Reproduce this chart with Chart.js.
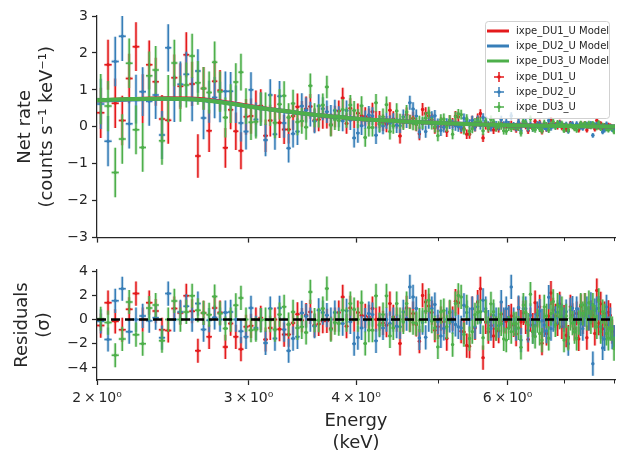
<!DOCTYPE html>
<html>
<head>
<meta charset="utf-8">
<script src="https://cdn.jsdelivr.net/npm/chart.js@4.4.0/dist/chart.umd.min.js"></script>
<style>
  body { margin: 0; background: #fff; }
  #wrap { position: relative; width: 623px; height: 464px; background: #fff; }
  canvas { position: absolute; left: 0; }
  #rate-chart { top: 0; }
  #resid-chart { top: 250px; }
</style>
</head>
<body>
<div id="wrap">
  <canvas id="rate-chart" width="623" height="250"></canvas>
  <canvas id="resid-chart" width="623" height="214"></canvas>
</div>
<script>
// bin centres (keV), 0.04 keV wide bins
const energy = [
  2.02,2.06,2.10,2.14,2.18,2.22,2.26,2.30,2.34,2.38,2.42,2.46,2.50,2.54,2.58,
  2.62,2.66,2.70,2.74,2.78,2.82,2.86,2.90,2.94,2.98,3.02,3.06,3.10,3.14,3.18,
  3.22,3.26,3.30,3.34,3.38,3.42,3.46,3.50,3.54,3.58,3.62,3.66,3.70,3.74,3.78,
  3.82,3.86,3.90,3.94,3.98,4.02,4.06,4.10,4.14,4.18,4.22,4.26,4.30,4.34,4.38,
  4.42,4.46,4.50,4.54,4.58,4.62,4.66,4.70,4.74,4.78,4.82,4.86,4.90,4.94,4.98,
  5.02,5.06,5.10,5.14,5.18,5.22,5.26,5.30,5.34,5.38,5.42,5.46,5.50,5.54,5.58,
  5.62,5.66,5.70,5.74,5.78,5.82,5.86,5.90,5.94,5.98,6.02,6.06,6.10,6.14,6.18,
  6.22,6.26,6.30,6.34,6.38,6.42,6.46,6.50,6.54,6.58,6.62,6.66,6.70,6.74,6.78,
  6.82,6.86,6.90,6.94,6.98,7.02,7.06,7.10,7.14,7.18,7.22,7.26,7.30,7.34,7.38,
  7.42,7.46,7.50,7.54,7.58,7.62,7.66,7.70,7.74,7.78,7.82,7.86,7.90,7.94,7.98
];
const binHalfWidth = 0.02;

const seriesNames = ['ixpe_DU1_U', 'ixpe_DU2_U', 'ixpe_DU3_U'];

// net rate, counts s^-1 keV^-1
const rateDU1 = [
  0.38,1.68,0.64,0.17,1.31,2.17,0.76,1.68,1.22,0.21,0.18,1.33,1.10,1.95,1.16,
  -0.79,1.04,-0.11,1.23,0.99,-0.57,0.46,-0.12,-0.65,0.27,0.29,0.52,0.57,-0.24,0.17,
  0.46,0.11,-0.07,-0.07,0.29,0.54,0.35,0.48,0.55,0.18,0.20,0.26,0.26,0.06,0.28,
  0.43,0.78,0.09,0.50,0.23,0.37,0.30,0.28,0.25,0.41,0.19,0.20,0.11,0.07,0.45,
  0.21,0.16,-0.25,0.15,0.33,0.14,0.23,0.06,-0.19,0.47,0.36,0.30,0.20,-0.03,0.01,
  0.11,0.07,-0.13,0.17,0.10,0.29,0.27,-0.05,-0.05,-0.20,-0.20,0.18,-0.01,0.24,0.36,
  -0.30,0.04,-0.05,0.00,-0.09,-0.02,-0.05,0.10,0.03,0.03,0.06,0.07,0.00,-0.07,0.12,
  0.02,0.09,0.02,-0.11,0.03,0.00,0.15,0.06,0.11,-0.13,0.02,-0.06,0.05,0.19,0.08,
  0.05,0.00,0.12,-0.02,0.03,-0.07,-0.08,0.09,0.04,-0.03,0.05,-0.09,0.09,0.00,0.09,
  -0.09,0.02,0.05,0.04,-0.06,0.17,-0.01,0.09,-0.04,0.04,-0.02,0.05,0.03,-0.05,-0.08
];
const rateDU2 = [
  0.62,-0.39,1.77,2.45,0.08,0.75,0.95,0.69,0.86,-0.22,2.14,0.76,1.15,1.42,0.75,
  1.51,0.24,0.68,0.79,0.67,0.96,0.96,0.61,0.10,-0.13,1.00,0.20,0.48,-0.36,0.86,
  -0.20,0.83,0.10,-0.58,-0.19,-0.13,0.56,0.45,0.34,0.15,0.56,0.49,0.41,0.29,0.44,
  0.27,0.16,0.44,0.18,-0.30,-0.17,0.03,0.19,0.32,0.29,-0.23,0.07,0.02,0.17,0.09,
  0.16,0.04,0.03,0.27,0.16,0.65,0.48,0.29,-0.14,0.08,-0.13,0.11,0.26,0.30,0.07,
  -0.10,-0.01,0.09,0.08,0.06,0.03,0.00,-0.01,0.23,0.15,0.08,0.18,0.00,0.19,0.04,
  0.25,0.16,0.04,-0.02,0.09,0.05,0.00,0.20,0.05,0.13,0.06,0.30,0.04,-0.03,0.13,
  -0.11,0.12,0.12,-0.04,0.06,-0.05,-0.01,0.07,0.08,0.02,-0.01,-0.05,0.17,-0.03,0.03,
  0.03,0.07,0.10,0.04,0.02,0.07,-0.12,0.07,0.08,0.00,0.08,0.02,-0.01,-0.04,0.04,
  0.07,0.02,0.09,-0.23,0.06,0.07,0.07,-0.03,-0.14,-0.09,0.08,-0.04,0.01,-0.08,-0.08
];
const rateDU3 = [
  0.75,0.56,-1.24,-0.33,1.72,-0.08,-0.56,1.38,1.54,-0.38,0.76,1.73,0.76,1.13,1.92,
  1.19,1.04,0.93,1.75,0.95,0.25,0.63,1.21,1.48,0.56,0.12,0.14,0.48,0.49,0.45,
  0.11,0.61,0.84,0.25,0.63,0.13,0.16,-0.01,1.11,0.31,0.30,0.59,1.08,0.04,0.20,
  0.17,0.47,0.25,0.59,0.44,0.22,0.57,-0.29,-0.02,-0.02,0.65,0.09,0.27,0.60,-0.13,
  0.02,0.43,0.15,0.11,0.40,0.13,0.09,0.07,0.12,0.11,0.23,0.38,0.09,0.00,-0.24,
  0.19,0.21,0.01,0.18,-0.20,0.27,0.35,0.33,-0.08,0.21,-0.12,-0.05,0.12,0.14,0.14,
  -0.11,0.13,-0.02,0.20,0.13,-0.02,0.05,0.02,-0.11,-0.12,-0.02,-0.05,0.01,0.01,-0.02,
  -0.17,0.15,0.09,0.00,0.22,-0.05,-0.08,0.02,-0.06,-0.11,0.11,0.05,-0.09,0.06,0.14,
  -0.01,0.11,0.04,0.09,-0.10,0.04,-0.09,0.03,0.00,-0.05,-0.09,0.00,0.10,0.05,0.09,
  0.02,0.10,0.00,0.09,0.03,-0.03,0.11,-0.05,0.05,0.03,-0.06,-0.09,-0.04,-0.04,-0.14
];
// 1-sigma error on the rate (same for the three units)
const rateErr = [
  0.68,0.68,0.67,0.67,0.67,0.66,0.66,0.66,0.65,0.65,0.64,0.63,0.62,0.61,0.60,
  0.59,0.58,0.57,0.56,0.55,0.54,0.525,0.51,0.50,0.485,0.475,0.46,0.45,0.44,0.43,
  0.42,0.41,0.395,0.385,0.37,0.36,0.35,0.34,0.335,0.325,0.32,0.31,0.305,0.30,0.29,
  0.285,0.28,0.275,0.27,0.26,0.26,0.255,0.25,0.245,0.24,0.235,0.23,0.225,0.22,0.215,
  0.21,0.205,0.20,0.196,0.192,0.188,0.184,0.18,0.176,0.172,0.168,0.164,0.16,0.156,0.152,
  0.149,0.147,0.144,0.142,0.14,0.137,0.135,0.132,0.13,0.127,0.125,0.122,0.12,0.118,0.116,
  0.114,0.112,0.11,0.108,0.106,0.104,0.102,0.10,0.098,0.096,0.095,0.094,0.093,0.092,0.091,
  0.09,0.089,0.088,0.087,0.086,0.083,0.082,0.08,0.079,0.079,0.078,0.077,0.076,0.075,0.074,
  0.074,0.073,0.072,0.071,0.07,0.07,0.0695,0.069,0.069,0.068,0.068,0.067,0.067,0.066,0.066,
  0.066,0.065,0.065,0.065,0.0645,0.064,0.064,0.063,0.063,0.062,0.062,0.061,0.061,0.06,0.06
];

// model curves
const modelEnergy = [2.0, 2.2, 2.4, 2.6, 2.8, 3.0, 3.2, 3.4, 3.6, 3.8, 4.0, 4.5, 5.0, 5.5, 6.0, 6.5, 7.0, 7.5, 8.0];
const modelDU1 = [0.71, 0.75, 0.77, 0.76, 0.68, 0.57, 0.47, 0.39, 0.32, 0.27, 0.22, 0.15, 0.10, 0.07, 0.045, 0.03, 0.02, 0.012, 0.008];
const modelDU2 = [0.71, 0.74, 0.76, 0.74, 0.665, 0.555, 0.46, 0.39, 0.32, 0.27, 0.22, 0.15, 0.10, 0.07, 0.045, 0.03, 0.02, 0.012, 0.008];
const modelDU3 = [0.72, 0.75, 0.76, 0.74, 0.66, 0.55, 0.46, 0.39, 0.32, 0.27, 0.22, 0.15, 0.10, 0.07, 0.045, 0.03, 0.02, 0.012, 0.008];

// residuals in sigma
const residDU1 = [
  -0.5,1.4,-0.15,-0.85,0.85,2.15,0.0,1.4,0.7,-0.85,-0.9,0.91,0.55,1.96,0.69,
  -2.58,0.55,-1.43,0.96,0.58,-2.26,-0.33,-1.43,-2.45,-0.6,-0.52,0.0,0.14,-1.65,-0.69,
  0.0,-0.8,-1.24,-1.24,-0.28,0.44,-0.05,0.36,0.63,-0.47,-0.36,-0.14,-0.11,-0.74,0.0,
  0.58,1.87,-0.55,0.96,0.0,0.58,0.36,0.3,0.22,0.91,0.0,0.08,-0.28,-0.47,1.32,
  0.22,0.0,-1.98,0.0,0.96,0.0,0.5,-0.41,-1.79,2.0,1.46,1.13,0.58,-0.88,-0.6,
  0.08,-0.19,-1.57,0.58,0.08,1.52,1.4,-0.96,-1.02,-2.15,-2.2,0.9,-0.7,1.45,2.55,
  -3.15,-0.2,-1.0,-0.5,-1.35,-0.75,-0.95,0.45,-0.15,-0.15,0.2,0.3,-0.45,-1.2,0.9,
  -0.2,0.55,-0.2,-1.65,0.0,-0.45,1.4,0.35,1.05,-1.95,-0.1,-1.15,0.3,2.2,0.8,
  0.3,-0.35,1.3,-0.6,0.2,-1.3,-1.45,1.05,0.35,-0.75,0.5,-1.6,1.1,-0.2,1.2,
  -1.5,0.1,0.6,0.35,-1.15,2.4,-0.3,1.3,-0.75,0.5,-0.45,0.6,0.35,-1.0,-1.5
];
const residDU2 = [
  -0.15,-1.65,1.55,2.55,-1.0,0.0,0.3,-0.1,0.15,-1.5,2.15,0.0,0.63,1.1,0.0,
  1.32,-0.83,-0.05,0.17,0.0,0.58,0.63,0.0,-0.96,-1.43,0.96,-0.69,-0.05,-1.93,0.91,
  -1.57,0.96,-0.83,-2.58,-1.57,-1.43,0.55,0.28,0.0,-0.55,0.77,0.58,0.36,0.0,0.58,
  0.0,-0.33,0.72,-0.19,-2.0,-1.49,-0.69,-0.05,0.5,0.41,-1.76,-0.47,-0.69,0.0,-0.33,
  0.0,-0.55,-0.6,0.63,0.08,2.7,1.87,0.91,-1.52,-0.25,-1.47,0.0,0.91,1.24,-0.19,
  -1.35,-0.74,0.0,-0.08,-0.19,-0.41,-0.6,-0.69,1.18,0.58,0.0,0.9,-0.6,1.05,-0.2,
  1.6,0.9,-0.2,-0.75,0.35,0.0,-0.5,1.45,0.0,0.9,0.15,2.7,0.0,-0.75,1.0,
  -1.7,0.9,0.9,-0.9,0.35,-1.0,-0.5,0.5,0.7,-0.1,-0.45,-0.95,1.85,-0.75,0.0,
  0.1,0.6,1.05,0.3,0.0,0.65,-2.0,0.8,0.95,-0.2,0.9,0.0,-0.35,-0.75,0.4,
  0.9,0.1,1.25,-3.65,0.75,0.9,0.95,-0.6,-2.35,-1.6,1.05,-0.75,0.0,-1.45,-1.45
];
const residDU3 = [
  0.05,-0.25,-2.95,-1.6,1.45,-1.25,-2.0,0.95,1.2,-1.75,0.0,1.54,0.0,0.63,1.96,
  0.77,0.55,0.4,1.9,0.5,-0.74,0.0,1.18,1.79,0.0,-0.88,-0.83,-0.05,0.0,-0.05,
  -0.83,0.41,1.05,-0.41,0.63,-0.69,-0.6,-1.07,2.29,-0.05,-0.05,0.91,2.56,-0.83,-0.25,
  -0.33,0.77,0.0,1.32,0.83,0.0,1.4,-1.98,-0.88,-0.88,1.96,-0.41,0.41,1.96,-1.35,
  -0.69,1.32,0.0,-0.19,1.32,-0.05,-0.25,-0.33,-0.05,-0.05,0.69,1.6,-0.14,-0.69,-2.26,
  0.63,0.74,-0.6,0.63,-2.07,1.32,2.0,1.87,-1.24,1.05,-1.57,-1.0,0.4,0.6,0.65,
  -1.5,0.65,-0.75,1.3,0.65,-0.75,0.0,-0.35,-1.6,-1.7,-0.7,-1.0,-0.35,-0.35,-0.7,
  -2.3,1.2,0.6,-0.45,2.1,-1.0,-1.4,-0.1,-1.15,-1.7,1.05,0.3,-1.55,0.5,1.5,
  -0.45,1.2,0.2,0.9,-1.7,0.3,-1.55,0.1,-0.3,-1.0,-1.55,-0.25,1.2,0.5,1.2,
  0.1,1.4,-0.2,1.2,0.2,-0.6,1.6,-1.0,0.65,0.3,-1.15,-1.55,-0.75,-0.75,-2.4
];
const residErr = 1;

// ticks
const xTickValues = [2, 3, 4, 5, 6, 7, 8];
const xMajorTicks = [2, 3, 4, 6];
const xTickLabels = ['2\u2009×\u200910⁰', '3\u2009×\u200910⁰', '4\u2009×\u200910⁰', '', '6\u2009×\u200910⁰', '', ''];
const rateTicks = [-3, -2, -1, 0, 1, 2, 3];
const residTicks = [-4, -2, 0, 2, 4];

const FONT = 'DejaVu Sans';
const INK = '#262626';
const COLORS = ['#e41a1c', '#377eb8', '#4daf4a'];

function fmtNum(v) {
  return v < 0 ? '\u2212' + Math.abs(v) : String(v);
}
function points(xs, ys) {
  return xs.map((x, i) => ({ x: x, y: ys[i] }));
}

// draws the error bars of a data series right before its markers
const errorBars = {
  id: 'errorBars',
  beforeDatasetDraw(chart, args) {
    const ds = chart.data.datasets[args.index];
    if (!ds.yErr) return;
    const xs = chart.scales.x, ys = chart.scales.y, ctx = chart.ctx, a = chart.chartArea;
    const path = new Path2D();
    ds.data.forEach((p, i) => {
      const e = Array.isArray(ds.yErr) ? ds.yErr[i] : ds.yErr;
      const px = xs.getPixelForValue(p.x), py = ys.getPixelForValue(p.y);
      path.moveTo(px, ys.getPixelForValue(p.y - e));
      path.lineTo(px, ys.getPixelForValue(p.y + e));
      path.moveTo(xs.getPixelForValue(p.x - ds.xErr), py);
      path.lineTo(xs.getPixelForValue(p.x + ds.xErr), py);
    });
    ctx.save();
    ctx.beginPath();
    ctx.rect(a.left, a.top, a.right - a.left, a.bottom - a.top);
    ctx.clip();
    ctx.strokeStyle = ds.borderColor;
    ctx.globalAlpha = 0.25;
    ctx.lineWidth = 3.2;
    ctx.stroke(path);
    ctx.globalAlpha = 1;
    ctx.lineWidth = 1.5;
    ctx.stroke(path);
    ctx.restore();
  }
};

// short minor ticks on the log axis
const minorTicks = {
  id: 'minorTicks',
  afterDraw(chart) {
    const xs = chart.scales.x, ctx = chart.ctx, y0 = chart.chartArea.bottom;
    ctx.save();
    ctx.strokeStyle = INK;
    ctx.lineWidth = 1;
    ctx.beginPath();
    xTickValues.filter(v => !xMajorTicks.includes(v)).forEach(v => {
      const px = Math.round(xs.getPixelForValue(v)) - 0.5;
      ctx.moveTo(px, y0);
      ctx.lineTo(px, y0 + 3.5);
    });
    ctx.stroke();
    ctx.restore();
  }
};

// matplotlib style legend box in the upper right
const legendBox = {
  id: 'legendBox',
  afterDraw(chart) {
    const ctx = chart.ctx;
    const rows = [31, 46, 61, 77, 92, 107];
    ctx.save();
    ctx.beginPath();
    ctx.roundRect(485.5, 21.5, 124, 97, 3);
    ctx.fillStyle = 'rgba(255,255,255,0.8)';
    ctx.fill();
    ctx.strokeStyle = 'rgba(204,204,204,0.9)';
    ctx.lineWidth = 1;
    ctx.stroke();
    ctx.font = '10px "' + FONT + '"';
    ctx.textBaseline = 'middle';
    seriesNames.concat(seriesNames).forEach((name, k) => {
      const y = rows[k], c = COLORS[k % 3];
      ctx.strokeStyle = c;
      ctx.fillStyle = c;
      if (k < 3) {
        ctx.lineWidth = 3;
        ctx.beginPath();
        ctx.moveTo(487, y);
        ctx.lineTo(509, y);
        ctx.stroke();
      } else {
        ctx.lineWidth = 1.5;
        ctx.beginPath();
        ctx.moveTo(499, y - 5);
        ctx.lineTo(499, y + 5);
        ctx.moveTo(494, y);
        ctx.lineTo(504, y);
        ctx.stroke();
        ctx.beginPath();
        ctx.arc(499, y, 1.8, 0, Math.PI * 2);
        ctx.fill();
      }
      ctx.fillStyle = INK;
      ctx.fillText(k < 3 ? name + ' Model' : name, 516, y);
    });
    ctx.restore();
  }
};

function xAxis(showLabels, height) {
  return {
    type: 'logarithmic',
    min: 2,
    max: 8,
    afterBuildTicks: s => { s.ticks = xTickValues.map(v => ({ value: v })); },
    afterFit: s => { s.height = height; },
    ticks: {
      display: showLabels,
      autoSkip: false,
      maxRotation: 0,
      padding: 5,
      color: INK,
      font: { family: FONT, size: 14 },
      callback: (v, i) => xTickLabels[i]
    },
    grid: {
      drawOnChartArea: false,
      drawTicks: true,
      tickLength: 5,
      tickWidth: 1.25,
      tickColor: c => (xMajorTicks.includes(c.tick && c.tick.value) ? INK : 'rgba(0,0,0,0)')
    },
    border: { color: INK, width: 1.25 },
    title: showLabels ? {
      display: true,
      text: ['Energy', '(keV)'],
      color: INK,
      font: { family: FONT, size: 18, lineHeight: 1.2 },
      padding: { top: 0, bottom: 10 }
    } : { display: false }
  };
}

function yAxis(min, max, tickVals, title, titlePad) {
  return {
    min: min,
    max: max,
    afterBuildTicks: s => { s.ticks = tickVals.map(v => ({ value: v })); },
    afterFit: s => { s.width = 97; },
    ticks: {
      padding: 4,
      color: INK,
      font: { family: FONT, size: 14 },
      callback: v => fmtNum(v)
    },
    grid: { drawOnChartArea: false, drawTicks: true, tickLength: 5, tickColor: INK, tickWidth: 1.25 },
    border: { color: INK, width: 1.25 },
    title: {
      display: true,
      text: title,
      color: INK,
      font: { family: FONT, size: 18, lineHeight: 1.2 },
      padding: { top: titlePad, bottom: 0 }
    }
  };
}

const rates = [rateDU1, rateDU2, rateDU3];
const models = [modelDU1, modelDU2, modelDU3];
const resids = [residDU1, residDU2, residDU3];

const rateSets = [];
models.forEach((m, k) => {
  rateSets.push({
    label: seriesNames[k] + ' Model',
    data: points(modelEnergy, m),
    showLine: true,
    borderColor: COLORS[k],
    borderWidth: 4,
    pointRadius: 0,
    cubicInterpolationMode: 'monotone',
    order: 2 - k
  });
});
rates.forEach((r, k) => {
  rateSets.push({
    label: seriesNames[k],
    data: points(energy, r),
    yErr: rateErr,
    xErr: binHalfWidth,
    borderColor: COLORS[k],
    backgroundColor: COLORS[k],
    pointRadius: 1.7,
    pointBorderWidth: 0,
    order: 5 - k
  });
});

new Chart(document.getElementById('rate-chart'), {
  type: 'scatter',
  data: { datasets: rateSets },
  options: {
    responsive: false,
    animation: false,
    devicePixelRatio: 1,
    layout: { padding: { top: 16, right: 8, left: 0, bottom: 0 } },
    plugins: { legend: { display: false }, tooltip: { enabled: false } },
    scales: {
      x: xAxis(false, 12),
      y: yAxis(-3, 3, rateTicks, ['Net rate', '(counts s⁻¹ keV⁻¹)'], 15)
    }
  },
  plugins: [errorBars, minorTicks, legendBox]
});

const residSets = [{
  label: 'zero',
  data: [{ x: 2, y: 0 }, { x: 8, y: 0 }],
  showLine: true,
  borderColor: '#000',
  borderWidth: 2.5,
  borderDash: [9, 5],
  pointRadius: 0,
  order: 0
}];
resids.forEach((r, k) => {
  residSets.push({
    label: seriesNames[k],
    data: points(energy, r),
    yErr: residErr,
    xErr: binHalfWidth,
    borderColor: COLORS[k],
    backgroundColor: COLORS[k],
    pointRadius: 1.7,
    pointBorderWidth: 0,
    order: 3 - k
  });
});

new Chart(document.getElementById('resid-chart'), {
  type: 'scatter',
  data: { datasets: residSets },
  options: {
    responsive: false,
    animation: false,
    devicePixelRatio: 1,
    layout: { padding: { top: 20, right: 8, left: 0, bottom: 0 } },
    plugins: { legend: { display: false }, tooltip: { enabled: false } },
    scales: {
      x: xAxis(true, 84),
      y: yAxis(-5, 4.1, residTicks, ['Residuals', '(σ)'], 12)
    }
  },
  plugins: [errorBars, minorTicks]
});
</script>
</body>
</html>
